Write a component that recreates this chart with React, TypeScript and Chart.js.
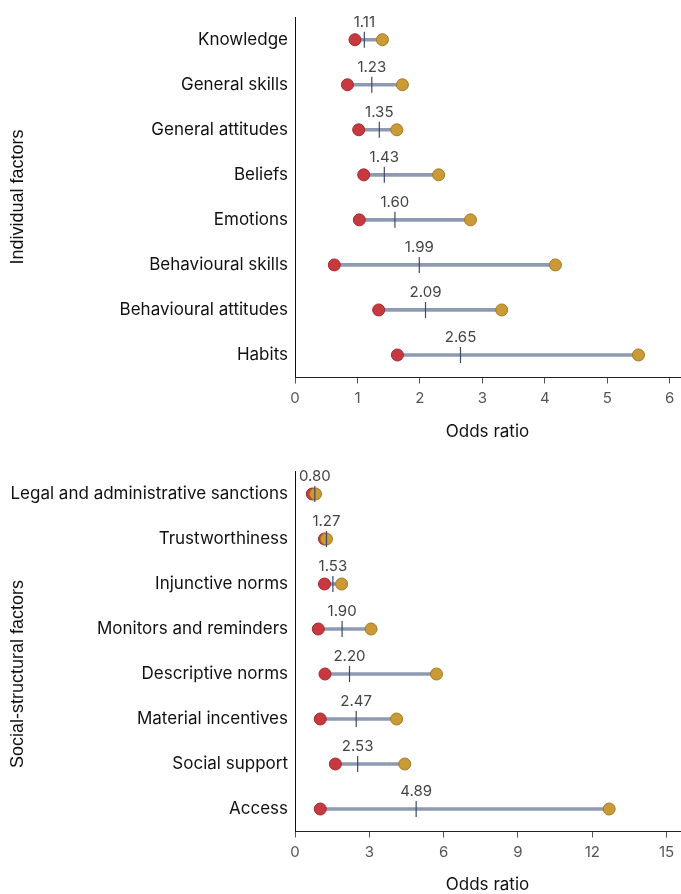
import React, { useEffect, useRef } from "react";
import { Chart, registerables } from "chart.js";

Chart.register(...registerables);

// ---------- data ----------
const topLabels = [
  "Knowledge",
  "General skills",
  "General attitudes",
  "Beliefs",
  "Emotions",
  "Behavioural skills",
  "Behavioural attitudes",
  "Habits",
];
const topLow = [0.96, 0.84, 1.02, 1.1, 1.03, 0.63, 1.34, 1.64];
const topHigh = [1.4, 1.72, 1.63, 2.3, 2.81, 4.17, 3.31, 5.5];
const topMedian = [1.11, 1.23, 1.35, 1.43, 1.6, 1.99, 2.09, 2.65];

const botLabels = [
  "Legal and administrative sanctions",
  "Trustworthiness",
  "Injunctive norms",
  "Monitors and reminders",
  "Descriptive norms",
  "Material incentives",
  "Social support",
  "Access",
];
const botLow = [0.7, 1.19, 1.19, 0.94, 1.21, 1.02, 1.63, 1.02];
const botHigh = [0.83, 1.27, 1.88, 3.07, 5.71, 4.1, 4.43, 12.68];
const botMedian = [0.8, 1.27, 1.53, 1.9, 2.2, 2.47, 2.53, 4.89];

const topTicks = { max: 6.165, step: 1 };
const botTicks = { max: 15.54, step: 3 };

// ---------- styles ----------
const RED = "#c8393f";
const RED_BORDER = "#9e2a30";
const GOLD = "#c99a36";
const GOLD_BORDER = "#a17a22";
const RANGE = "#8e9ab1";
const TICK = "#3a4a6a";

const medianLabelPlugin = {
  id: "medianLabels",
  afterDatasetsDraw(chart: any) {
    const meds: number[] = chart.options.plugins.medianLabels.values;
    const xs = chart.scales.x;
    const ys = chart.scales.y;
    const ctx = chart.ctx;
    ctx.save();
    ctx.font = "15px Inter";
    ctx.fillStyle = "#444";
    ctx.textAlign = "center";
    ctx.textBaseline = "middle";
    meds.forEach((m, i) => {
      ctx.fillText(m.toFixed(2), xs.getPixelForValue(m), ys.getPixelForValue(i) - 17.5);
    });
    ctx.restore();
  },
};

const sideTitlePlugin = {
  id: "sideTitle",
  afterDraw(chart: any) {
    const o = chart.options.plugins.sideTitle;
    const ctx = chart.ctx;
    ctx.save();
    ctx.translate(18, o.y);
    ctx.rotate(-Math.PI / 2);
    ctx.font = "18px 'Liberation Sans'";
    ctx.fillStyle = "#111";
    ctx.textAlign = "center";
    ctx.textBaseline = "middle";
    ctx.fillText(o.text, 0, 0);
    ctx.restore();
  },
};

function makeConfig(
  labels: string[],
  low: number[],
  high: number[],
  med: number[],
  yTitle: string,
  yTitleY: number,
  ticks: { max: number; step: number },
  padTop: number,
  xHeight: number,
  titlePadBottom: number
): any {
  return {
    type: "bar",
    data: {
      labels,
      datasets: [
        {
          type: "scatter",
          data: med.map((v, i) => ({ x: v, y: labels[i] })),
          pointStyle: "line",
          rotation: 90,
          radius: 8,
          borderColor: TICK,
          borderWidth: 1.2,
          order: 0,
        },
        {
          type: "scatter",
          data: high.map((v, i) => ({ x: v, y: labels[i] })),
          pointStyle: "circle",
          radius: 6,
          backgroundColor: GOLD,
          borderColor: GOLD_BORDER,
          borderWidth: 1,
          order: 1,
        },
        {
          type: "scatter",
          data: low.map((v, i) => ({ x: v, y: labels[i] })),
          pointStyle: "circle",
          radius: 6,
          backgroundColor: RED,
          borderColor: RED_BORDER,
          borderWidth: 1,
          order: 2,
        },
        {
          type: "bar",
          data: low.map((v, i) => [v, high[i]]),
          backgroundColor: RANGE,
          barThickness: 3,
          borderSkipped: false,
          order: 3,
        },
      ],
    },
    options: {
      indexAxis: "y",
      responsive: false,
      animation: false,
      layout: { autoPadding: false, padding: { top: padTop, right: 1, left: 0, bottom: 0 } },
      plugins: {
        legend: { display: false },
        tooltip: { enabled: false },
        medianLabels: { values: med },
        sideTitle: { text: yTitle, y: yTitleY },
      },
      scales: {
        y: {
          type: "category",
          offset: true,
          grid: { display: true, drawOnChartArea: false, drawTicks: false },
          border: { display: true, color: "#111", width: 1 },
          ticks: {
            padding: 7,
            color: "#111",
            font: { family: "Inter", size: 17 },
          },
          title: { display: false },
          afterFit(s: any) {
            s.width = 295;
          },
        },
        x: {
          type: "linear",
          min: 0,
          max: ticks.max,
          grid: {
            display: true,
            drawOnChartArea: false,
            drawTicks: true,
            tickLength: 6,
            color: "#555",
          },
          border: { display: true, color: "#222", width: 1 },
          ticks: {
            stepSize: ticks.step,
            includeBounds: false,
            padding: 6,
            color: "#555",
            font: { family: "Inter", size: 15 },
          },
          title: {
            display: true,
            text: "Odds ratio",
            color: "#111",
            font: { family: "Inter", size: 17 },
            padding: { top: 4, bottom: titlePadBottom },
          },
          afterFit(s: any) {
            s.height = xHeight;
            s.paddingLeft = 0;
            s.paddingRight = 0;
          },
        },
      },
    },
    plugins: [medianLabelPlugin, sideTitlePlugin],
  };
}

export default function App() {
  const topRef = useRef<HTMLCanvasElement>(null);
  const botRef = useRef<HTMLCanvasElement>(null);

  useEffect(() => {
    const c1 = new Chart(
      topRef.current as HTMLCanvasElement,
      makeConfig(topLabels, topLow, topHigh, topMedian, "Individual factors", 197, topTicks, 16.5, 72.5, 7.5)
    );
    const c2 = new Chart(
      botRef.current as HTMLCanvasElement,
      makeConfig(botLabels, botLow, botHigh, botMedian, "Social-structural factors", 224, botTicks, 21.5, 62.5, -1.5)
    );
    return () => {
      c1.destroy();
      c2.destroy();
    };
  }, []);

  return (
    <div style={{ position: "absolute", left: 0, top: 0, width: 681, height: 894, background: "#fff" }}>
      <div style={{ position: "absolute", left: 0, top: 0 }}>
        <canvas ref={topRef} width={681} height={450} style={{ display: "block" }} />
      </div>
      <div style={{ position: "absolute", left: 0, top: 450 }}>
        <canvas ref={botRef} width={681} height={444} style={{ display: "block" }} />
      </div>
    </div>
  );
}
